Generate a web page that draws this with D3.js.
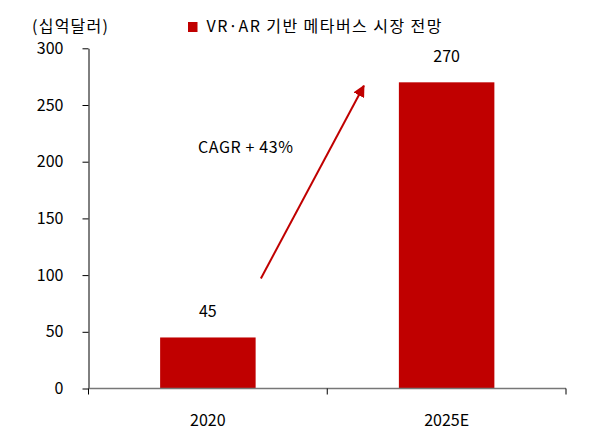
<!DOCTYPE html>
<html><head><meta charset="utf-8">
<script src="https://cdn.jsdelivr.net/npm/d3@7"></script>
<style>body{margin:0;background:#fff}text{font-family:"Noto Sans CJK KR","Noto Sans",sans-serif;fill:#000}</style>
</head><body><svg id="c" width="598" height="446"></svg>
<script>
const categories = ["2020", "2025E"];
const values = [45, 270];
const yTicks = [0, 50, 100, 150, 200, 250, 300];
const seriesName = "VR·AR 기반 메타버스 시장 전망";
const unitLabel = "(십억달러)";
const cagrLabel = "CAGR + 43%";
const color = "#C00000";

const svg = d3.select("#c");
const m = {left: 88.5, right: 32, top: 48.3, bottom: 57.5};
const W = 598, H = 446;
const x = d3.scaleBand().domain(categories).range([m.left, W - m.right]).paddingInner(0.6).paddingOuter(0.3);
const y = d3.scaleLinear().domain([0, 300]).range([H - m.bottom, m.top]);

// bars
svg.selectAll("rect.bar").data(values).join("rect")
  .attr("x", (d, i) => x(categories[i])).attr("width", x.bandwidth())
  .attr("y", d => y(d)).attr("height", d => y(0) - y(d)).attr("fill", color);

// y axis
const ya = svg.append("g").attr("transform", `translate(${m.left},0)`)
  .call(d3.axisLeft(y).tickValues(yTicks).tickSize(6).tickPadding(19).tickSizeOuter(0));
ya.select(".domain").attr("stroke", "#000");
ya.selectAll(".tick line").attr("stroke", "#000");
ya.selectAll("text").style("font-size", "16px").attr("fill", "#000");

// x axis
const xr = x.range();
const xa = svg.append("g").attr("transform", `translate(0,${y(0)})`);
xa.append("line").attr("x1", xr[0]).attr("x2", xr[1]).attr("stroke", "#777").attr("stroke-width", 1.5);
const bounds = [xr[0], (xr[0] + xr[1]) / 2, xr[1]];
xa.selectAll("line.t").data(bounds).join("line").attr("class", "t")
  .attr("x1", d => d).attr("x2", d => d).attr("y1", 0).attr("y2", 6).attr("stroke", "#000");
xa.selectAll("text").data(categories).join("text")
  .attr("x", d => x(d) + x.bandwidth() / 2).attr("y", 37)
  .attr("text-anchor", "middle").style("font-size", "16px").text(d => d);

// value labels
svg.selectAll("text.val").data(values).join("text").attr("class", "val")
  .attr("x", (d, i) => x(categories[i]) + x.bandwidth() / 2).attr("y", d => y(d) - 20)
  .attr("text-anchor", "middle").style("font-size", "16px").text(d => d);

// unit label
svg.append("text").attr("x", 32).attr("y", 32).style("font-size", "16px")
  .attr("textLength", 76).attr("lengthAdjust", "spacing").text(unitLabel);

// legend
svg.append("rect").attr("x", 188).attr("y", 22).attr("width", 9.5).attr("height", 10).attr("fill", color);
svg.append("text").attr("x", 206.5).attr("y", 32).style("font-size", "16px")
  .attr("textLength", 235).attr("lengthAdjust", "spacing").text(seriesName);

// arrow
const defs = svg.append("defs");
defs.append("marker").attr("id", "ah").attr("viewBox", "0 0 10 10").attr("refX", 9).attr("refY", 5)
  .attr("markerWidth", 6).attr("markerHeight", 6).attr("orient", "auto")
  .append("path").attr("d", "M0,0L10,5L0,10Z").attr("fill", color);
const a0 = [x("2020") + x.bandwidth() / 2 + 53, y(97)];
const a1 = [x("2025E") - 35, y(267)];
svg.append("line").attr("x1", a0[0]).attr("y1", a0[1]).attr("x2", a1[0]).attr("y2", a1[1])
  .attr("stroke", color).attr("stroke-width", 2).attr("marker-end", "url(#ah)");

svg.append("text").attr("x", 198).attr("y", 153).style("font-size", "16px")
  .attr("textLength", 95).attr("lengthAdjust", "spacing").text(cagrLabel);
</script></body></html>
